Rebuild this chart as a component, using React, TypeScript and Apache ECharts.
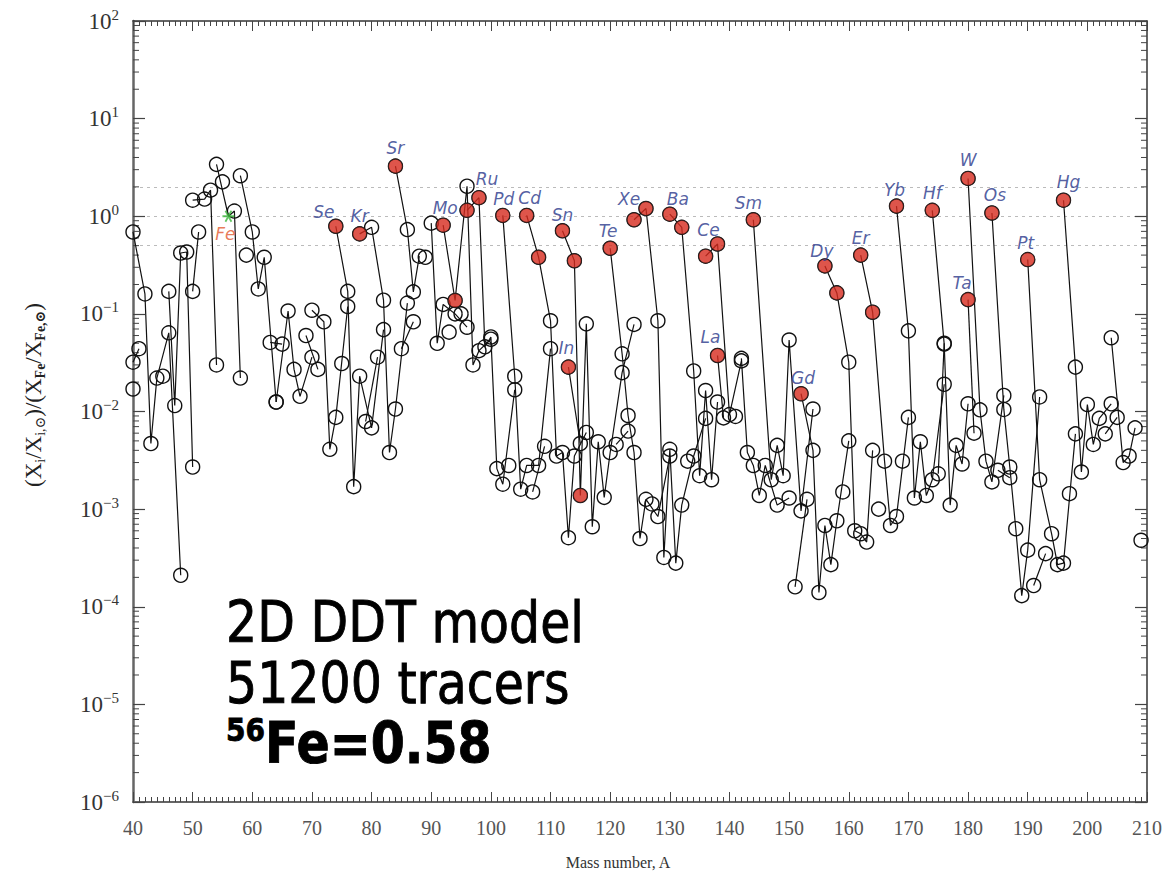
import React, { useEffect, useRef } from "react";
import * as echarts from "echarts";

type Pt = [number, number];

// Isotopic production factors: [mass number A, (X_i/X_i,sun)/(X_Fe/X_Fe,sun)]
const Ar: Pt[] = [[40, 0.017]];
const K: Pt[] = [[40, 0.032], [41, 0.044]];
const Ca: Pt[] = [[40, 0.69], [42, 0.16], [43, 0.0047], [44, 0.022], [46, 0.064], [48, 0.00021]];
const Sc: Pt[] = [[45, 0.023]];
const Ti: Pt[] = [[46, 0.17], [47, 0.0115], [48, 0.42], [49, 0.43], [50, 0.0027]];
const V: Pt[] = [[50, 0.17], [51, 0.69]];
const Cr: Pt[] = [[50, 1.46], [52, 1.5], [53, 1.85], [54, 0.03]];
const Mn: Pt[] = [[55, 2.25]];
const Fe: Pt[] = [[54, 3.4], [56, 1.0], [57, 1.13], [58, 0.022]];
const Co: Pt[] = [[59, 0.4]];
const Ni: Pt[] = [[58, 2.6], [60, 0.69], [61, 0.18], [62, 0.38], [64, 0.0125]];
const Cu: Pt[] = [[63, 0.051], [65, 0.049]];
const Zn: Pt[] = [[64, 0.0125], [66, 0.107], [67, 0.027], [68, 0.0143], [70, 0.036]];
const Ga: Pt[] = [[69, 0.06], [71, 0.027]];
const Ge: Pt[] = [[70, 0.109], [72, 0.083], [73, 0.0041], [74, 0.0087], [76, 0.119]];
const As: Pt[] = [[75, 0.031]];
const Se: Pt[] = [[74, 0.79], [76, 0.17], [77, 0.0017], [78, 0.023], [80, 0.0068], [82, 0.069]];
const Br: Pt[] = [[79, 0.0079], [81, 0.036]];
const Kr: Pt[] = [[78, 0.66], [80, 0.77], [82, 0.138], [83, 0.0038], [84, 0.0106], [86, 0.129]];
const Rb: Pt[] = [[85, 0.044], [87, 0.083]];
const Sr: Pt[] = [[84, 3.26], [86, 0.73], [87, 0.168], [88, 0.39]];
const Y: Pt[] = [[89, 0.38]];
const Zr: Pt[] = [[90, 0.85], [91, 0.05], [92, 0.125], [94, 0.1], [96, 0.073]];
const Nb: Pt[] = [[93, 0.065]];
const Mo: Pt[] = [[92, 0.81], [94, 0.137], [96, 2.03], [97, 0.03], [98, 0.042], [100, 0.055]];
const Mo95: Pt[] = [[95, 0.1]];
const Ru: Pt[] = [[96, 1.15], [98, 1.55], [99, 0.046], [100, 0.058], [101, 0.0026], [102, 0.0018], [104, 0.0167]];
const Rh: Pt[] = [[103, 0.0028]];
const Pd: Pt[] = [[102, 1.02], [104, 0.023], [105, 0.0016], [106, 0.0028], [108, 0.0028], [110, 0.044]];
const Ag: Pt[] = [[107, 0.0015], [109, 0.0044]];
const Cd: Pt[] = [[106, 1.02], [108, 0.38], [110, 0.085], [111, 0.0035], [112, 0.0038], [113, 0.00051], [114, 0.0035], [116, 0.0061]];
const In: Pt[] = [[113, 0.0285], [115, 0.0047]];
const Sn: Pt[] = [[112, 0.71], [114, 0.35], [115, 0.00138], [116, 0.079], [117, 0.00066], [118, 0.0049], [119, 0.00132], [120, 0.0038], [122, 0.025], [124, 0.078]];
const Sb: Pt[] = [[121, 0.0046], [123, 0.0063]];
const Te: Pt[] = [[120, 0.47], [122, 0.039], [123, 0.0091], [124, 0.0038], [125, 0.0005], [126, 0.00126], [128, 0.00084], [130, 0.0035]];
const I: Pt[] = [[127, 0.00113]];
const Xe: Pt[] = [[124, 0.92], [126, 1.2], [128, 0.085], [129, 0.00032], [130, 0.0041], [131, 0.00028], [132, 0.0011], [134, 0.0035], [136, 0.0085]];
const Cs: Pt[] = [[133, 0.0031]];
const Ba: Pt[] = [[130, 1.05], [132, 0.77], [134, 0.026], [135, 0.0022], [136, 0.0164], [137, 0.002], [138, 0.0125]];
const La: Pt[] = [[138, 0.0375], [139, 0.0086]];
const Ce: Pt[] = [[136, 0.39], [138, 0.52], [140, 0.0093], [142, 0.033]];
const Pr: Pt[] = [[141, 0.0089]];
const Nd: Pt[] = [[142, 0.035], [143, 0.0038], [144, 0.0028], [145, 0.00138], [146, 0.0028], [148, 0.0011], [150, 0.0013]];
const Sm: Pt[] = [[144, 0.92], [147, 0.002], [148, 0.0045], [149, 0.0022], [150, 0.054], [152, 0.00096], [154, 0.0106]];
const Eu: Pt[] = [[151, 0.00016], [153, 0.00126]];
const Gd: Pt[] = [[152, 0.0152], [154, 0.004], [155, 0.00014], [156, 0.00068], [157, 0.00027], [158, 0.00076], [160, 0.005]];
const Tb: Pt[] = [[159, 0.0015]];
const Dy: Pt[] = [[156, 0.31], [158, 0.164], [160, 0.032], [161, 0.0006], [162, 0.00056], [163, 0.00046], [164, 0.004]];
const Ho: Pt[] = [[165, 0.001]];
const Er: Pt[] = [[162, 0.4], [164, 0.104], [166, 0.0031], [167, 0.00068], [168, 0.00084], [170, 0.0087]];
const Tm: Pt[] = [[169, 0.0031]];
const Yb: Pt[] = [[168, 1.27], [170, 0.067], [171, 0.0013], [172, 0.0049], [173, 0.00138], [174, 0.002], [176, 0.019]];
const Lu: Pt[] = [[175, 0.0023], [176, 0.05]];
const Hf: Pt[] = [[174, 1.15], [176, 0.049], [177, 0.0011], [178, 0.0045], [179, 0.0029], [180, 0.012]];
const Ta: Pt[] = [[180, 0.14], [181, 0.006]];
const W: Pt[] = [[180, 2.44], [182, 0.0104], [183, 0.0031], [184, 0.0019], [186, 0.0146]];
const Re: Pt[] = [[185, 0.0025], [187, 0.0021]];
const Os: Pt[] = [[184, 1.08], [186, 0.0105], [187, 0.0027], [188, 0.00063], [189, 0.00013], [190, 0.00038], [192, 0.0141]];
const Ir: Pt[] = [[191, 0.000165], [193, 0.00035]];
const Pt_: Pt[] = [[190, 0.36], [192, 0.002], [194, 0.00056], [195, 0.00027], [196, 0.00028], [198, 0.0059]];
const Au: Pt[] = [[197, 0.00144]];
const Hg: Pt[] = [[196, 1.46], [198, 0.0285], [199, 0.0024], [200, 0.0118], [201, 0.0046], [202, 0.0085], [204, 0.012]];
const Tl: Pt[] = [[203, 0.0059], [205, 0.0087]];
const Pb: Pt[] = [[204, 0.057], [206, 0.003], [207, 0.0035], [208, 0.0068]];
const Bi: Pt[] = [[209, 0.00048]];

const ELEMENT_NAMES = [
  "Ar", "K", "Ca", "Sc", "Ti", "V", "Cr", "Mn", "Fe", "Co", "Ni", "Cu", "Zn", "Ga", "Ge", "As", "Se", "Br", "Kr",
  "Rb", "Sr", "Y", "Zr", "Nb", "Mo", "Mo95", "Ru", "Rh", "Pd", "Ag", "Cd", "In", "Sn", "Sb", "Te", "I", "Xe", "Cs",
  "Ba", "La", "Ce", "Pr", "Nd", "Sm", "Eu", "Gd", "Tb", "Dy", "Ho", "Er", "Tm", "Yb", "Lu", "Hf", "Ta", "W", "Re",
  "Os", "Ir", "Pt", "Au", "Hg", "Tl", "Pb", "Bi",
];
const ELEMENT_DATA: Pt[][] = [
  Ar, K, Ca, Sc, Ti, V, Cr, Mn, Fe, Co, Ni, Cu, Zn, Ga, Ge, As, Se, Br, Kr,
  Rb, Sr, Y, Zr, Nb, Mo, Mo95, Ru, Rh, Pd, Ag, Cd, In, Sn, Sb, Te, I, Xe, Cs,
  Ba, La, Ce, Pr, Nd, Sm, Eu, Gd, Tb, Dy, Ho, Er, Tm, Yb, Lu, Hf, Ta, W, Re,
  Os, Ir, Pt_, Au, Hg, Tl, Pb, Bi,
];

// p-nuclei (filled red): [element, A]
const P_NUCLEI: [string, number][] = [
  ["Se", 74], ["Kr", 78], ["Sr", 84], ["Mo", 92], ["Mo", 94], ["Ru", 96], ["Ru", 98], ["Pd", 102],
  ["Cd", 106], ["Cd", 108], ["Sn", 112], ["In", 113], ["Sn", 114], ["Sn", 115], ["Te", 120], ["Xe", 124],
  ["Xe", 126], ["Ba", 130], ["Ba", 132], ["Ce", 136], ["Ce", 138], ["La", 138], ["Sm", 144], ["Gd", 152],
  ["Dy", 156], ["Dy", 158], ["Er", 162], ["Er", 164], ["Yb", 168], ["Hf", 174], ["Ta", 180], ["W", 180],
  ["Os", 184], ["Pt", 190], ["Hg", 196],
];
// which p-nucleus carries the element's name tag
const P_LABELED: [string, number][] = [
  ["Se", 74], ["Kr", 78], ["Sr", 84], ["Mo", 92], ["Ru", 98], ["Pd", 102], ["Cd", 106], ["Sn", 112],
  ["In", 113], ["Te", 120], ["Xe", 124], ["Ba", 130], ["Ce", 138], ["La", 138], ["Sm", 144], ["Gd", 152],
  ["Dy", 156], ["Er", 162], ["Yb", 168], ["Hf", 174], ["Ta", 180], ["W", 180], ["Os", 184], ["Pt", 190], ["Hg", 196],
];
const REFERENCE_ISOTOPE: [string, number] = ["Fe", 56];
const GUIDE_LINES = [0.5, 1, 2];

const X_MIN = 40;
const X_MAX = 210;
const X_STEP = 10;
const Y_MIN = 1e-6;
const Y_MAX = 100;
const Y_DECADES = [-6, -5, -4, -3, -2, -1, 0, 1];
const Y_MINOR_MANTISSAS = [2, 3, 4, 5, 6, 7, 8, 9];

// label offsets (px) relative to the marked point
const LABEL_OFFSETS: Record<string, [number, number]> = {
  Se: [-12, -14], Kr: [0, -18], Sr: [0, -18], Mo: [2, -17], Ru: [8, -19], Pd: [1, -16], Cd: [3, -17],
  Sn: [0, -16], In: [-2, -19], Te: [-2, -17], Xe: [-5, -21], Ba: [8, -15], Ce: [-9, -14], La: [-7, -18],
  Sm: [-5, -17], Gd: [2, -16], Dy: [-3, -15], Er: [0, -17], Yb: [-2, -16], Hf: [0, -17], Ta: [-6, -17],
  W: [0, -18], Os: [3, -18], Pt: [-2, -17], Hg: [5, -18],
};

const STAR =
  "path://M-1,-0.15L1,-0.15L1,0.15L-1,0.15Z M0.37,0.941L-0.63,-0.791L-0.37,-0.941L0.63,0.791Z M-0.63,0.791L0.37,-0.941L0.63,-0.791L-0.37,0.941Z";

function lookup(el: string, a: number): number {
  const idx = ELEMENT_NAMES.indexOf(el);
  const arr = ELEMENT_DATA[idx];
  const p = arr.find((q) => q[0] === a);
  return p ? p[1] : NaN;
}

const SERIF = "'Liberation Serif', 'DejaVu Serif', serif";

function buildOption(): any {
  const lineSeries = ELEMENT_NAMES.map((name, i) => ({
    type: "line",
    name,
    data: ELEMENT_DATA[i].map(([a, v]) =>
      name === REFERENCE_ISOTOPE[0] && a === REFERENCE_ISOTOPE[1] ? { value: [a, v], symbol: "none" } : [a, v]
    ),
    symbol: "circle",
    symbolSize: 14,
    showSymbol: true,
    showAllSymbol: true,
    itemStyle: { color: "rgba(0,0,0,0)", borderColor: "#111", borderWidth: 1.4 },
    lineStyle: { color: "#111", width: 1.2 },
    emphasis: { disabled: true },
    silent: true,
    z: 3,
  }));

  const pData = P_NUCLEI.map(([el, a]) => {
    const labeled = P_LABELED.some(([e2, a2]) => e2 === el && a2 === a);
    const item: any = { value: [a, lookup(el, a)] };
    if (labeled) {
      item.label = {
        show: true,
        formatter: el,
        position: "inside",
        offset: LABEL_OFFSETS[el] || [0, -17],
      };
    }
    return item;
  });

  const minorTicks: number[][] = [];
  Y_DECADES.forEach((d) => Y_MINOR_MANTISSAS.forEach((m) => minorTicks.push([X_MIN, m * Math.pow(10, d)])));

  const fmtY = (v: number) => {
    const e = Math.round(Math.log10(v));
    const s = e < 0 ? "\u2212" + -e : String(e);
    return `{b|10}{e|${s}}`;
  };

  return {
    animation: false,
    backgroundColor: "#ffffff",
    grid: { left: 133, right: 16, top: 21, bottom: 73, containLabel: false },
    xAxis: [
      {
        type: "value",
        min: X_MIN,
        max: X_MAX,
        interval: X_STEP,
        position: "bottom",
        axisLine: { show: true, lineStyle: { color: "#666", width: 2 } },
        axisTick: { show: true, inside: true, length: 10, lineStyle: { color: "#444", width: 1 } },
        minorTick: { show: true, splitNumber: 10, length: 5, lineStyle: { color: "#444", width: 1 } },
        axisLabel: { fontFamily: SERIF, fontSize: 20, color: "#555", margin: 16 },
        splitLine: { show: false },
      },
      {
        type: "value",
        min: X_MIN,
        max: X_MAX,
        interval: X_STEP,
        position: "top",
        axisLine: { show: true, lineStyle: { color: "#333", width: 1.5 } },
        axisTick: { show: true, inside: true, length: 10, lineStyle: { color: "#444", width: 1 } },
        minorTick: { show: true, splitNumber: 10, length: 5, lineStyle: { color: "#444", width: 1 } },
        axisLabel: { show: false },
        splitLine: { show: false },
      },
    ],
    yAxis: [
      {
        type: "log",
        logBase: 10,
        min: Y_MIN,
        max: Y_MAX,
        splitNumber: 8,
        position: "left",
        axisLine: { show: true, lineStyle: { color: "#666", width: 2.5 } },
        axisTick: { show: true, inside: true, length: 12, lineStyle: { color: "#444", width: 1.2 } },
        axisLabel: {
          margin: 14,
          formatter: fmtY,
          rich: {
            b: { fontFamily: SERIF, fontSize: 23, lineHeight: 28, color: "#333" },
            e: { fontFamily: SERIF, fontSize: 15, lineHeight: 16, color: "#333", verticalAlign: "top" },
          },
        },
        splitLine: { show: false },
      },
      {
        type: "log",
        logBase: 10,
        min: Y_MIN,
        max: Y_MAX,
        splitNumber: 8,
        position: "right",
        axisLine: { show: true, lineStyle: { color: "#333", width: 1.5 } },
        axisTick: { show: true, inside: true, length: 12, lineStyle: { color: "#444", width: 1.2 } },
        axisLabel: { show: false },
        splitLine: { show: false },
      },
    ],
    graphic: [
      {
        type: "text",
        x: 226,
        y: 592,
        scaleY: 1.17,
        z: 20,
        style: {
          text: "2D DDT model\n51200 tracers\n{s|56}{b|Fe=0.58}",
          fontFamily: "'DejaVu Sans', sans-serif",
          fontSize: 49,
          lineHeight: 52,
          fill: "#000",
          stroke: "#000",
          lineWidth: 0.8,
          rich: {
            s: { fontFamily: "'DejaVu Sans', sans-serif", fontSize: 28, fontWeight: "bold", lineHeight: 30, verticalAlign: "top", fill: "#000" },
            b: { fontFamily: "'DejaVu Sans', sans-serif", fontSize: 49, fontWeight: "bold", lineHeight: 52, fill: "#000" },
          },
        },
      },
      {
        type: "text",
        x: 618,
        y: 862,
        style: {
          text: "Mass number, A",
          fontFamily: SERIF,
          fontSize: 16,
          fill: "#333",
          textAlign: "center",
          textVerticalAlign: "middle",
        },
      },
      {
        type: "text",
        x: 33,
        y: 395,
        rotation: Math.PI / 2,
        style: {
          text: "(X{s|i}/X{s|i,\u2299})/(X{f|Fe}/X{f|Fe,\u2299})",
          fontFamily: SERIF,
          fontSize: 23,
          lineHeight: 28,
          fill: "#222",
          textAlign: "center",
          textVerticalAlign: "middle",
          rich: {
            s: { fontFamily: SERIF, fontSize: 14, lineHeight: 14, verticalAlign: "bottom", fill: "#222" },
            f: { fontFamily: SERIF, fontSize: 14, fontWeight: "bold", lineHeight: 14, verticalAlign: "bottom", fill: "#222" },
          },
        },
      },
    ],
    series: [
      {
        type: "custom",
        name: "yMinorTicks",
        coordinateSystem: "cartesian2d",
        silent: true,
        clip: false,
        z: 1,
        data: minorTicks,
        encode: { x: 0, y: 1 },
        renderItem: (_params: any, api: any) => {
          const v = api.value(1);
          const l = api.coord([X_MIN, v]);
          const r = api.coord([X_MAX, v]);
          const st = { stroke: "#444", lineWidth: 1 };
          return {
            type: "group",
            children: [
              { type: "line", shape: { x1: l[0], y1: l[1], x2: l[0] + 6, y2: l[1] }, style: st },
              { type: "line", shape: { x1: r[0], y1: r[1], x2: r[0] - 6, y2: r[1] }, style: st },
            ],
          };
        },
      },
      ...lineSeries,
      {
        type: "scatter",
        name: "p-nuclei",
        data: pData,
        symbol: "circle",
        symbolSize: 14,
        itemStyle: { color: "#d62a1e", borderColor: "#222", borderWidth: 1 },
        label: {
          show: false,
          fontFamily: "'DejaVu Sans', sans-serif",
          fontStyle: "italic",
          fontSize: 17,
          color: "#29378a",
        },
        emphasis: { disabled: true },
        silent: true,
        z: 6,
        markLine: {
          silent: true,
          symbol: "none",
          label: { show: false },
          lineStyle: { type: [3, 4], color: "#bbb", width: 1 },
          data: GUIDE_LINES.map((g) => ({ yAxis: g })),
          z: 0,
        },
      },
      {
        type: "scatter",
        name: "56Fe",
        data: [
          {
            value: [REFERENCE_ISOTOPE[1], lookup(REFERENCE_ISOTOPE[0], REFERENCE_ISOTOPE[1])],
            label: {
              show: true,
              formatter: "Fe",
              position: "inside",
              offset: [-3, 18],
              fontFamily: "'DejaVu Sans', sans-serif",
              fontStyle: "italic",
              fontSize: 17,
              color: "#e2582e",
            },
          },
        ],
        symbol: STAR,
        symbolSize: 12,
        itemStyle: { color: "#3cb83c" },
        emphasis: { disabled: true },
        silent: true,
        z: 7,
      },
    ],
  };
}

export default function App() {
  const ref = useRef<HTMLDivElement>(null);
  useEffect(() => {
    document.body.style.margin = "0";
    if (!ref.current) return;
    const chart = echarts.init(ref.current, undefined, { renderer: "svg" });
    chart.setOption(buildOption());
    return () => chart.dispose();
  }, []);
  return (
    <div
      ref={ref}
      style={{ position: "absolute", left: 0, top: 0, width: 1165, height: 875, background: "#fff" }}
    />
  );
}
